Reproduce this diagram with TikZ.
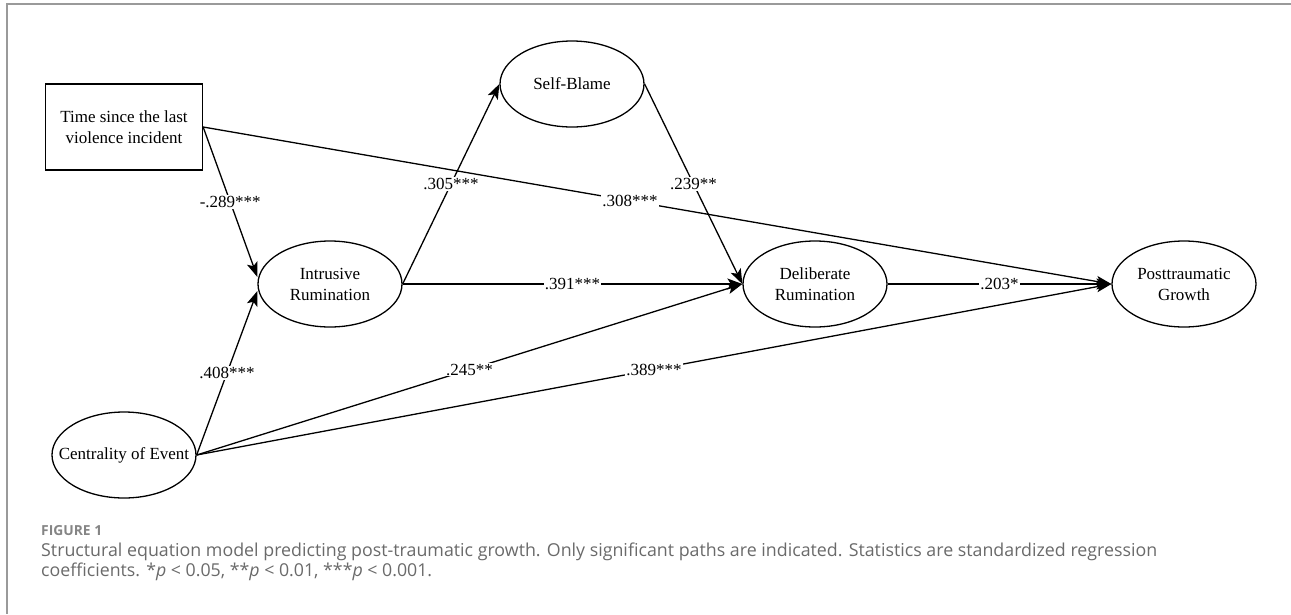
\documentclass[tikz,border=0pt]{standalone}
\usepackage{fontspec}
\usepackage{graphicx}
\setmainfont{Liberation Serif}
\newfontfamily\capfont{Open Sans}
\usetikzlibrary{shapes.geometric,arrows.meta}
\definecolor{framegray}{HTML}{9A9A9A}
\definecolor{figgray}{HTML}{858585}
\definecolor{capgray}{HTML}{6A6A6A}

\begin{document}
\begin{tikzpicture}[x=1pt,y=-1pt,
  font=\fontsize{17}{21}\selectfont,
  var/.style={ellipse,draw,line width=1.3pt,minimum width=144pt,minimum height=86pt,inner sep=0pt,align=center},
  obs/.style={rectangle,draw,line width=1.3pt,minimum width=157pt,minimum height=86pt,align=center},
  path/.style={line width=1.3pt,-{Stealth[length=15pt,width=11pt,inset=3.5pt]}},
  coef/.style={midway,fill=white,inner sep=1pt},
  captext/.style={anchor=base west,inner sep=0pt,text=capgray,font=\capfont\fontsize{16.5}{20}\selectfont}]
  \useasboundingbox (0,0) rectangle (1291,614);
  \draw[framegray,line width=1.5pt] (1291,4) -- (7,4) -- (7,614);

  \node[obs] (time) at (124,127) {Time since the last\\violence incident};
  \node[var] (intr) at (330,284) {Intrusive\\Rumination};
  \node[var,inner xsep=-16pt] (cent) at (124,455) {Centrality of Event};
  \node[var] (self) at (572,84) {Self-Blame};
  \node[var] (delib) at (815,284) {Deliberate\\Rumination};
  \node[var] (ptg) at (1184,284) {Posttraumatic\\Growth};

  \draw[path] (time.east) -- node[coef]{-.289***} ([yshift=7pt]intr.west);
  \draw[path] (cent.east) -- node[coef]{.408***} ([yshift=-7pt]intr.west);
  \draw[path] (intr.east) -- node[coef]{.305***} (self.west);
  \draw[path] (self.east) -- node[coef]{.239**} (delib.west);
  \draw[path] (intr.east) -- node[coef]{.391***} (delib.west);
  \draw[path] (cent.east) -- node[coef]{.245**} (delib.west);
  \draw[path] (time.east) -- node[coef,pos=.47]{.308***} (ptg.west);
  \draw[path] (cent.east) -- node[coef]{.389***} (ptg.west);
  \draw[path] (delib.east) -- node[coef]{.203*} (ptg.west);

  \node[anchor=base west,inner sep=0pt,text=figgray,font=\capfont\bfseries\fontsize{14}{16}\selectfont] (fig) at (41,535) {\resizebox{61pt}{!}{FIGURE 1}};
  \node[captext] (cap1) at (41,556) {\resizebox{1116pt}{!}{Structural equation model predicting post-traumatic growth. Only significant paths are indicated. Statistics are standardized regression}};
  \node[captext] (cap2) at (41,576) {\resizebox{391pt}{!}{coefficients. *\textit{p} < 0.05, **\textit{p} < 0.01, ***\textit{p} < 0.001.}};
\end{tikzpicture}
\end{document}
